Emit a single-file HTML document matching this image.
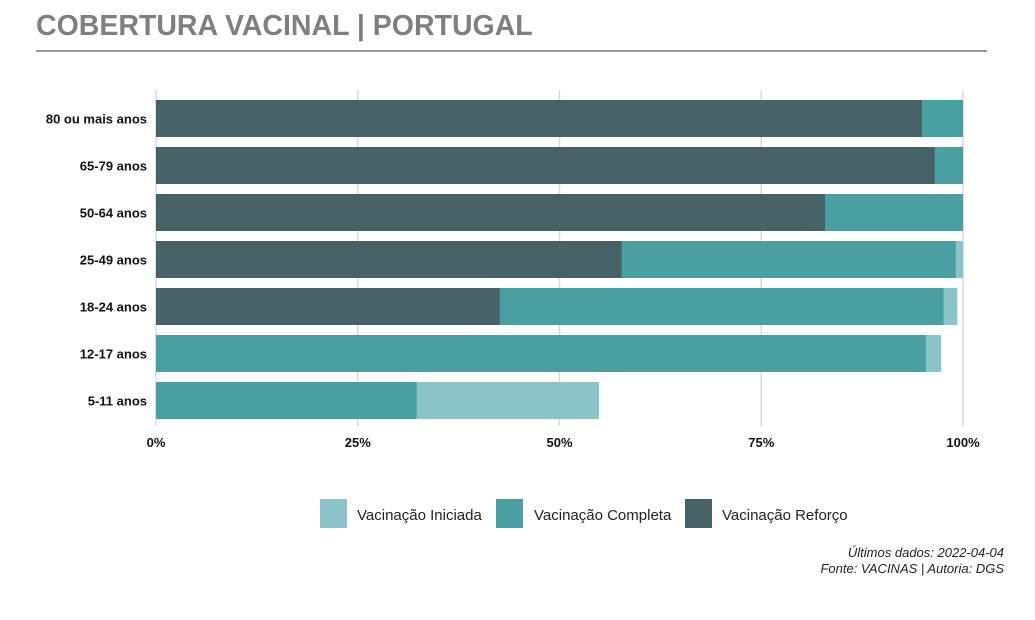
<!DOCTYPE html>
<html><head><meta charset="utf-8"><style>
body{margin:0;background:#fff;font-family:"Liberation Sans",sans-serif;}
</style></head><body>
<svg id="c" width="1035" height="615" xmlns="http://www.w3.org/2000/svg">
<text x="36" y="35" font-size="28.5" font-weight="bold" fill="#7f7f7f">COBERTURA VACINAL | PORTUGAL</text>
<line x1="36" y1="51" x2="987" y2="51" stroke="#999" stroke-width="2"/>
<g id="grid"></g><g id="bars"></g><g id="axes"></g>
<g font-size="15" fill="#222">
<rect x="320" y="499" width="27" height="29" fill="#8ac4c9"/>
<text x="357" y="520">Vacinação Iniciada</text>
<rect x="496" y="499" width="27" height="29" fill="#4a9fa0"/>
<text x="534" y="520">Vacinação Completa</text>
<rect x="685" y="499" width="27" height="29" fill="#466266"/>
<text x="722" y="520">Vacinação Reforço</text>
</g>
<text x="1004" y="557" font-size="13" font-style="italic" text-anchor="end" fill="#222">Últimos dados: 2022-04-04</text>
<text x="1004" y="573" font-size="13" font-style="italic" text-anchor="end" fill="#222">Fonte: VACINAS | Autoria: DGS</text>
</svg>
<script>
const categories=["80 ou mais anos","65-79 anos","50-64 anos","25-49 anos","18-24 anos","12-17 anos","5-11 anos"];
const iniciada=[100,100,100,100,99.3,97.3,54.9];
const completa=[100,100,100,99.1,97.6,95.4,32.3];
const reforco=[94.9,96.5,82.9,57.7,42.6,0,0];
const ticks=[0,25,50,75,100];
const tickLabels=["0%","25%","50%","75%","100%"];
const NS="http://www.w3.org/2000/svg";
const x0=156,x1=963,plotTop=95,step=47,bh=37;
const xs=v=>x0+(x1-x0)*v/100;
const yc=i=>plotTop+step*i+step/2;
function mk(t,a,p){const e=document.createElementNS(NS,t);for(const k in a)e.setAttribute(k,a[k]);p.appendChild(e);return e;}
const grid=document.getElementById('grid'),bars=document.getElementById('bars'),axes=document.getElementById('axes');
ticks.forEach((t,i)=>{
 const l=mk('line',{x1:xs(t),x2:xs(t),y1:90,y2:426,stroke:'#d9d9d9','stroke-width':1.5},grid);
 
 
 const tx=mk('text',{x:xs(t),y:447,'font-size':13,'font-weight':'bold','text-anchor':'middle',fill:'#111'},axes);
 tx.textContent=tickLabels[i];
 
 
});
const series=[[iniciada,'#8ac4c9','iniciada'],[completa,'#4a9fa0','completa'],[reforco,'#466266','reforco']];
categories.forEach((c,i)=>{
 series.forEach(([arr,col,nm])=>{
  if(arr[i]<=0)return;
  const r=mk('rect',{x:xs(0),y:yc(i)-bh/2,width:xs(arr[i])-xs(0),height:bh,fill:col},bars);
  
  
 });
 const t=mk('text',{x:147,y:yc(i)+5,'font-size':13,'font-weight':'bold','text-anchor':'end',fill:'#111'},axes);
 t.textContent=c;
 
 
});
</script>
</body></html>
